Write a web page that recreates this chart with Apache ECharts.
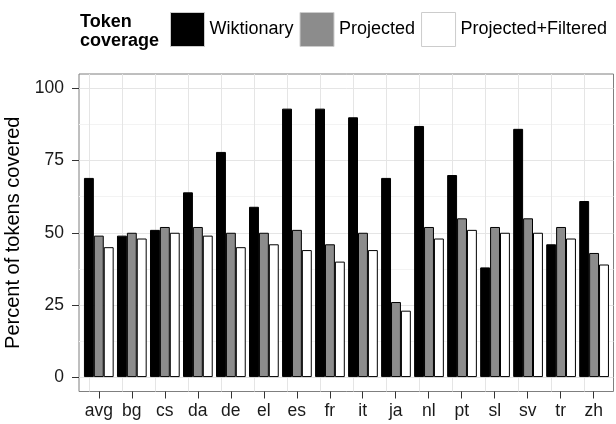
<!DOCTYPE html>
<html>
<head>
<meta charset="utf-8">
<script src="https://cdn.jsdelivr.net/npm/echarts@6/dist/echarts.min.js"></script>
<style>
html,body{margin:0;padding:0;background:#fff;}
#chart{width:616px;height:424px;}
</style>
</head>
<body>
<div id="chart"></div>
<script>
var categories = ['avg','bg','cs','da','de','el','es','fr','it','ja','nl','pt','sl','sv','tr','zh'];
var wiktionary = [69,49,51,64,78,59,93,93,90,69,87,70,38,86,46,61];
var projected = [49,50,52,52,50,50,51,46,50,26,52,55,52,55,52,43];
var projectedFiltered = [45,48,50,49,45,46,44,40,44,23,48,51,50,50,48,39];
var yTicks = [0,25,50,75,100];
var yMinorTicks = [12.5,37.5,62.5,87.5];
var xGridPositions = categories.map(function(c, i){ return i + 1; });

var FONT = 'Liberation Sans, Arial, Helvetica, sans-serif';
var chart = echarts.init(document.getElementById('chart'), null, {renderer:'canvas'});

function barSeries(name, data, color, withGrid){
  var s = {
    name: name, type: 'bar', xAxisIndex: 0, yAxisIndex: 0,
    data: data, barGap: '0%', barCategoryGap: '10%',
    itemStyle: {color: color, borderColor: '#000', borderWidth: 1},
    emphasis: {disabled: true}, animation: false, z: 2
  };
  if (withGrid) {
    s.markLine = {
      silent: true, z: 1, animation: false, symbol: ['none', 'none'],
      label: {show: false},
      lineStyle: {color: '#e5e5e5', type: 'solid', width: 1},
      emphasis: {disabled: true},
      data: categories.map(function(c){ return {xAxis: c}; })
    };
  }
  return s;
}

chart.setOption({
  animation: false,
  textStyle: {fontFamily: FONT},
  title: {
    text: 'Token\ncoverage', left: 80, top: 13, padding: 0,
    textStyle: {fontFamily: FONT, fontWeight: 'bold', fontSize: 18, lineHeight: 19, color: '#000'}
  },
  legend: {
    left: 170, top: 12, padding: 0, itemWidth: 34, itemHeight: 34, itemGap: 6,
    selectedMode: false,
    textStyle: {fontFamily: FONT, fontSize: 18, color: '#000'},
    data: [
      {name: 'Wiktionary', icon: 'rect', itemStyle: {color: '#000', borderColor: '#cccccc', borderWidth: 1}},
      {name: 'Projected', icon: 'rect', itemStyle: {color: '#8c8c8c', borderColor: '#cccccc', borderWidth: 1}},
      {name: 'Projected+Filtered', icon: 'rect', itemStyle: {color: '#fff', borderColor: '#cccccc', borderWidth: 1}}
    ]
  },
  grid: [
    {left: 82.3, right: 5.4, top: 74, bottom: 32.5, show: false, containLabel: false, outerBoundsMode: 'none'},
    {left: 79, right: 2.5, top: 74, bottom: 32.5, show: true, containLabel: false, outerBoundsMode: 'none',
     backgroundColor: '#fff', borderColor: '#7f7f7f', borderWidth: 1}
  ],
  xAxis: [
    {
      type: 'category', gridIndex: 0, data: categories,
      axisLine: {show: false, onZero: false}, axisTick: {show: false}, axisLabel: {show: false},
      splitLine: {show: false}
    },
    {
      type: 'value', gridIndex: 1, min: 0.4, max: 16.6,
      axisLine: {show: false, onZero: false},
      axisTick: {show: true, interval: 0, length: 7, lineStyle: {color: '#333'}, customValues: xGridPositions},
      axisLabel: {
        show: true, interval: 0, customValues: xGridPositions, fontFamily: FONT, fontSize: 17.5,
        color: '#1a1a1a', margin: 11,
        formatter: function(v){ return categories[Math.round(v) - 1] || ''; }
      },
      splitLine: {show: false}
    }
  ],
  yAxis: [
    {type: 'value', gridIndex: 0, min: -5, max: 105, show: false},
    {
      type: 'value', gridIndex: 1, min: -5, max: 105,
      name: 'Percent of tokens covered', nameLocation: 'middle', nameGap: 52,
      nameTextStyle: {fontFamily: FONT, fontSize: 20, color: '#000'},
      axisLine: {show: false, onZero: false},
      axisTick: {show: true, length: 7, lineStyle: {color: '#333'}, customValues: yTicks},
      axisLabel: {fontFamily: FONT, fontSize: 17.5, color: '#1a1a1a', margin: 15, customValues: yTicks},
      splitLine: {show: true, lineStyle: {color: '#e5e5e5', width: 1}}
    },
    {
      type: 'value', gridIndex: 1, min: -5, max: 105,
      axisLine: {show: false, onZero: false},
      axisTick: {show: false, customValues: yMinorTicks},
      axisLabel: {show: false, customValues: yMinorTicks},
      splitLine: {show: true, lineStyle: {color: '#f3f3f3', width: 1}}
    }
  ],
  series: [
    barSeries('Wiktionary', wiktionary, '#000', true),
    barSeries('Projected', projected, '#8c8c8c', false),
    barSeries('Projected+Filtered', projectedFiltered, '#fff', false)
  ]
});
</script>
</body>
</html>
